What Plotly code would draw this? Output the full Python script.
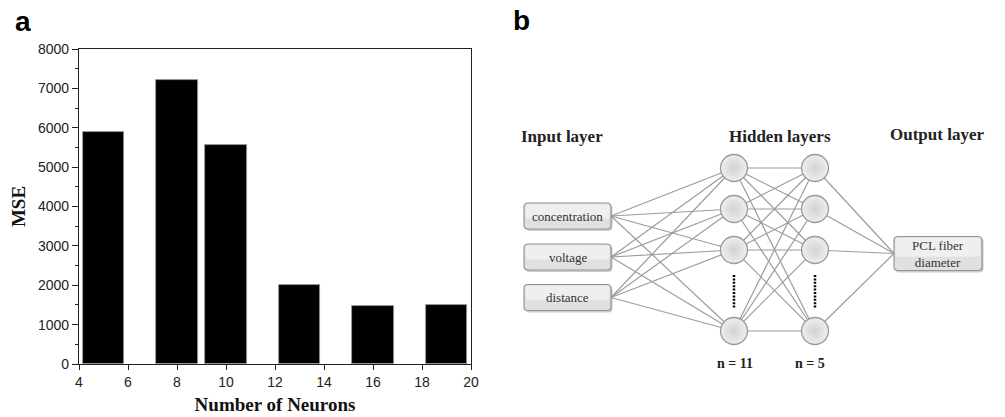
import plotly.graph_objects as go

# ---------------- Panel a data ----------------
neurons = [5, 8, 10, 13, 16, 19]
mse = [5880, 7220, 5550, 2000, 1475, 1500]
x_ticks = [4, 6, 8, 10, 12, 14, 16, 18, 20]
y_ticks = [0, 1000, 2000, 3000, 4000, 5000, 6000, 7000, 8000]

# ---------------- Panel b data (diagram) ----------------
input_labels = ["concentration", "voltage", "distance"]
output_labels = ["PCL fiber<br>diameter"]
hidden_counts = ["n = 11", "n = 5"]
layer_titles = ["Input layer", "Hidden layers", "Output layer"]

# layout of the diagram (in diagram axis units)
input_x = 567.5
input_y = [216, 257, 297.5]
hidden_x = [734, 815]
hidden_y = [168, 209, 250, 331]
output_x = 938
output_y = [253.5]
in_box_w, in_box_h = 87, 26
out_box_w, out_box_h = 88, 34
title_x = [561.7, 780, 937]
title_y = [136.7, 136.7, 134]
dots_y = [275, 308]
count_y = 363
count_x = [735, 810]

SERIF = "Liberation Serif"
SANS = "Liberation Sans"

# page has an 8px body margin: the figure is offset by OFF px inside the window
WIN_W, WIN_H, OFF = 1005, 417, 8
W, H = WIN_W - OFF, WIN_H - OFF


def px_x(p):
    return (p - OFF) / W


def px_y(p):
    return (WIN_H - p) / H


fig = go.Figure()

# ---- Panel a: bars ----
fig.add_trace(go.Bar(
    x=neurons, y=mse, width=1.7,
    marker=dict(color="black", line=dict(color="#9a9a9a", width=0.8)),
    xaxis="x", yaxis="y", showlegend=False,
))

# ---- Panel b: edges ----
ex, ey = [], []
in_right = input_x + in_box_w / 2
for yi in input_y:
    for yh in hidden_y:
        ex += [in_right, hidden_x[0], None]
        ey += [yi, yh, None]
for y1 in hidden_y:
    for y2 in hidden_y:
        ex += [hidden_x[0], hidden_x[1], None]
        ey += [y1, y2, None]
out_left = output_x - out_box_w / 2
for y2 in hidden_y:
    for yo in output_y:
        ex += [hidden_x[1], out_left, None]
        ey += [y2, yo, None]
fig.add_trace(go.Scatter(
    x=ex, y=ey, mode="lines", line=dict(color="#9c9c9c", width=1.2),
    xaxis="x2", yaxis="y2", showlegend=False, hoverinfo="skip",
))

# dotted "..." between nodes
for hx in hidden_x:
    fig.add_trace(go.Scatter(
        x=[hx, hx], y=dots_y, mode="lines",
        line=dict(color="black", width=2.5, dash="2px,1.4px"),
        xaxis="x2", yaxis="y2", showlegend=False, hoverinfo="skip",
    ))

# nodes
nx, ny = [], []
for hx in hidden_x:
    for hy in hidden_y:
        nx.append(hx)
        ny.append(hy)
fig.add_trace(go.Scatter(
    x=nx, y=ny, mode="markers",
    marker=dict(size=27, color="#eeeeee",
                gradient=dict(type="radial", color="#d2d2d2"),
                line=dict(color="#9a9a9a", width=1.3)),
    xaxis="x2", yaxis="y2", showlegend=False, hoverinfo="skip",
))


def rrect(cx, cy, w, h, r=4):
    x0, x1 = cx - w / 2, cx + w / 2
    y0, y1 = cy - h / 2, cy + h / 2
    return (f"M {x0 + r},{y0} L {x1 - r},{y0} Q {x1},{y0} {x1},{y0 + r} "
            f"L {x1},{y1 - r} Q {x1},{y1} {x1 - r},{y1} L {x0 + r},{y1} "
            f"Q {x0},{y1} {x0},{y1 - r} L {x0},{y0 + r} Q {x0},{y0} {x0 + r},{y0} Z")


shapes = []
annotations = []
boxes = [(input_x, y, in_box_w, in_box_h, lab) for y, lab in zip(input_y, input_labels)]
boxes += [(output_x, y, out_box_w, out_box_h, lab) for y, lab in zip(output_y, output_labels)]
for cx, cy, w, h, lab in boxes:
    # shadow
    shapes.append(dict(type="path", path=rrect(cx + 1.5, cy + 2, w, h), xref="x2", yref="y2",
                       fillcolor="rgba(140,140,140,0.45)", line=dict(width=0), layer="above"))
    # box
    shapes.append(dict(type="path", path=rrect(cx, cy, w, h), xref="x2", yref="y2",
                       fillcolor="#e0e0e0", line=dict(color="#959595", width=1.2), layer="above"))
    # lighter upper band (gradient imitation)
    shapes.append(dict(type="path", path=rrect(cx, cy - h * 0.18, w - 3, h * 0.55, r=3), xref="x2", yref="y2",
                       fillcolor="#efefef", line=dict(width=0), layer="above"))
    annotations.append(dict(x=cx, y=cy, xref="x2", yref="y2", text=lab, showarrow=False,
                            font=dict(family=SERIF, size=13, color="#333333")))

for t, tx, ty in zip(layer_titles, title_x, title_y):
    annotations.append(dict(x=tx, y=ty, xref="x2", yref="y2", text=f"<b>{t}</b>", showarrow=False,
                            font=dict(family=SERIF, size=17, color="#222222")))
for t, tx in zip(hidden_counts, count_x):
    annotations.append(dict(x=tx, y=count_y, xref="x2", yref="y2", text=f"<b>{t}</b>", showarrow=False,
                            font=dict(family=SERIF, size=14, color="#222222")))

# panel labels
annotations.append(dict(x=23, y=21, xref="x2", yref="y2", text="<b>a</b>", showarrow=False,
                        font=dict(family=SANS, size=28, color="black")))
annotations.append(dict(x=521, y=20, xref="x2", yref="y2", text="<b>b</b>", showarrow=False,
                        font=dict(family=SANS, size=28, color="black")))

fig.update_layout(
    width=W, height=H,
    margin=dict(l=0, r=0, t=0, b=0, autoexpand=False),
    paper_bgcolor="white", plot_bgcolor="rgba(0,0,0,0)",
    bargap=0,
    shapes=shapes,
    annotations=annotations,
    xaxis=dict(
        domain=[px_x(79), px_x(471)], range=[4, 20], automargin=False,
        tickvals=x_ticks, ticks="outside", ticklen=5, tickwidth=1.2, tickcolor="#222",
        showline=True, linecolor="#222", linewidth=1.2, mirror=True,
        showgrid=False, zeroline=False,
        tickfont=dict(family=SANS, size=14, color="#222"),
        title=dict(text="<b>Number of Neurons</b>", standoff=8,
                   font=dict(family=SERIF, size=19, color="#111")),
        anchor="y",
    ),
    yaxis=dict(
        domain=[px_y(364), px_y(49)], range=[0, 8000], automargin=False,
        tickvals=y_ticks, ticks="outside", ticklen=6, tickwidth=1.2, tickcolor="#222",
        minor=dict(dtick=500, ticks="outside", ticklen=3, tickcolor="#222", showgrid=False),
        showline=True, linecolor="#222", linewidth=1.2, mirror=True,
        showgrid=False, zeroline=False,
        tickfont=dict(family=SANS, size=14, color="#222"),
        title=dict(text="<b>MSE</b>", standoff=8,
                   font=dict(family=SERIF, size=19, color="#111")),
        anchor="x",
    ),
    # diagram axes expressed in window pixels
    xaxis2=dict(domain=[0, 1], range=[OFF, WIN_W], visible=False, anchor="y2",
                fixedrange=True, automargin=False),
    yaxis2=dict(domain=[0, 1], range=[WIN_H, OFF], visible=False, anchor="x2",
                fixedrange=True, automargin=False),
)

fig.write_html("out.html")
